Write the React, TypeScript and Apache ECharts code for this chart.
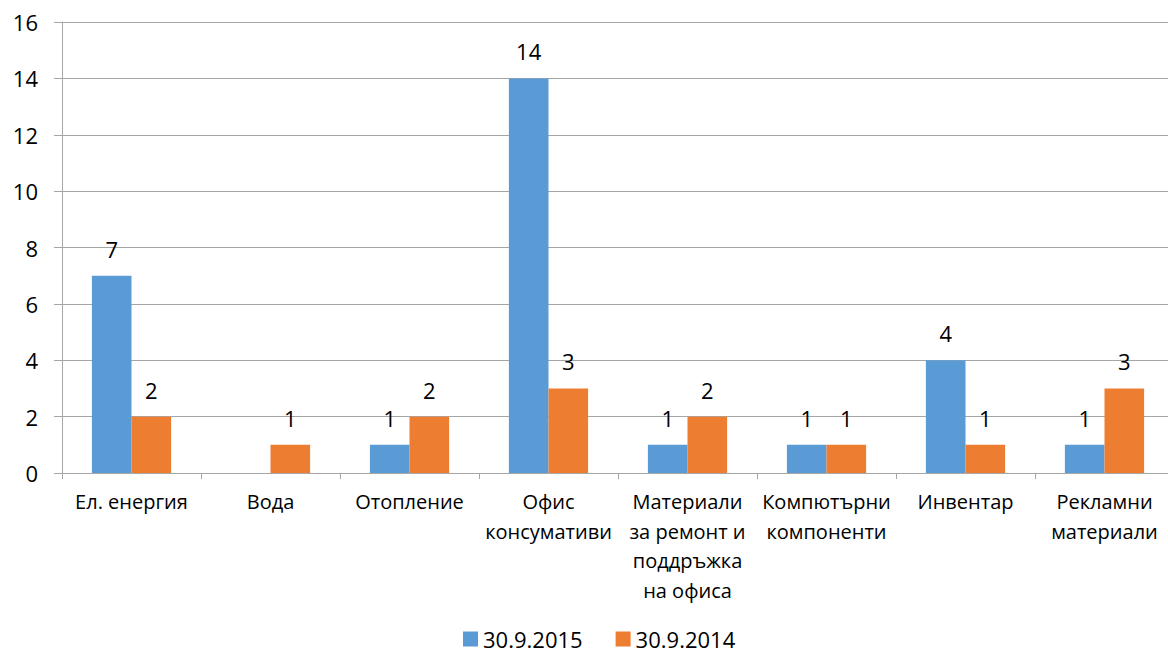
import React, { useEffect, useRef } from "react";
import * as echarts from "echarts";

const categories = [
  "Ел. енергия",
  "Вода",
  "Отопление",
  "Офис\nконсумативи",
  "Материали\nза ремонт и\nподдръжка\nна офиса",
  "Компютърни\nкомпоненти",
  "Инвентар",
  "Рекламни\nматериали",
];
const series2015 = [7, 0, 1, 14, 1, 1, 4, 1];
const series2014 = [2, 1, 2, 3, 2, 1, 1, 3];
const seriesNames = ["30.9.2015", "30.9.2014"];
const colors = ["#5B9BD5", "#ED7D31"];

const FONT = "'Open Sans', 'Noto Sans', sans-serif";

export default function App() {
  const ref = useRef<HTMLDivElement>(null);
  useEffect(() => {
    if (!ref.current) return;
    const chart = echarts.init(ref.current, undefined, { renderer: "svg" });
    const label = {
      show: true,
      position: "top",
      distance: 16,
      color: "#000",
      fontSize: 22,
      fontFamily: FONT,
      formatter: (p: any) => (p.value === 0 ? "" : String(p.value)),
    };
    chart.setOption({
      animation: false,
      color: colors,
      textStyle: { fontFamily: FONT },
      grid: { left: 62, right: 0, top: 22, bottom: 183, containLabel: false },
      legend: {
        bottom: 1,
        left: 458,
        itemWidth: 15,
        itemHeight: 15,
        itemGap: 33,
        icon: "rect",
        textStyle: { fontSize: 22, color: "#000", fontFamily: FONT },
        data: seriesNames,
      },
      xAxis: {
        type: "category",
        data: categories,
        axisLine: { lineStyle: { color: "#A6A6A6", width: 1 } },
        axisTick: { show: true, length: 6, lineStyle: { color: "#A6A6A6" } },
        axisLabel: {
          interval: 0,
          margin: 14,
          fontSize: 20,
          lineHeight: 29.5,
          color: "#000",
          fontFamily: FONT,
        },
      },
      yAxis: {
        type: "value",
        min: 0,
        max: 16,
        interval: 2,
        axisLine: { show: true, lineStyle: { color: "#A6A6A6", width: 1 } },
        axisTick: { show: true, length: 8, lineStyle: { color: "#A6A6A6" } },
        splitLine: { show: true, lineStyle: { color: "#A6A6A6", width: 1 } },
        axisLabel: {
          margin: 24,
          fontSize: 22,
          color: "#000",
          fontFamily: FONT,
        },
      },
      series: [
        {
          name: seriesNames[0],
          type: "bar",
          data: series2015,
          barGap: "0%",
          barCategoryGap: "43%",
          label,
        },
        {
          name: seriesNames[1],
          type: "bar",
          data: series2014,
          barGap: "0%",
          barCategoryGap: "43%",
          label,
        },
      ],
    });
    return () => chart.dispose();
  }, []);
  return (
    <div
      style={{
        position: "fixed",
        left: 0,
        top: 0,
        width: 1168,
        height: 656,
        overflow: "hidden",
        background: "#fff",
      }}
    >
      <div ref={ref} style={{ width: 1174, height: 656 }} />
    </div>
  );
}
